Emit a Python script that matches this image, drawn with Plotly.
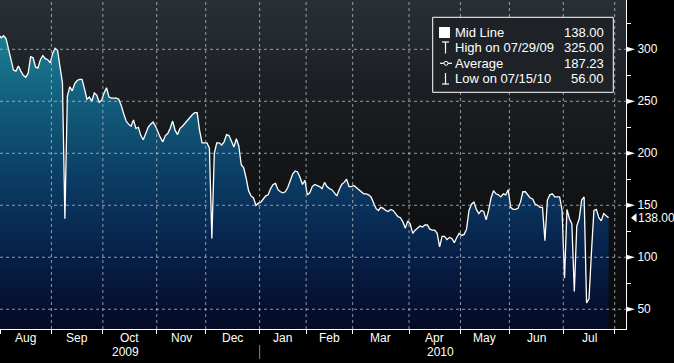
import numpy as np
import pandas as pd
import plotly.graph_objects as go

# ---------------- data ----------------
# trading-day closes from 2009-07-29 to 2010-07-28 (US trading calendar)
holidays = ["2009-09-07", "2009-11-26", "2009-12-25", "2010-01-01", "2010-01-18",
            "2010-02-15", "2010-04-02", "2010-05-31", "2010-07-05"]
values = [
    325, 319, 314,
    311, 313, 310, 300, 289, 280, 279, 284, 279, 275,
    273, 277, 293, 292, 283, 282, 290, 294, 291, 290,
    287, 296, 301, 299, 283, 268, 137, 255, 264, 260,
    267, 270, 271, 271, 262, 252, 254, 250, 258, 256,
    249, 251, 258, 263, 254, 253, 253, 253, 252, 246,
    238, 231, 228, 226, 232, 224, 225, 217, 213, 220,
    225, 228, 230, 226, 220, 215, 211, 217, 219, 224,
    231, 222, 218, 224, 226, 229, 232, 234, 237, 239,
    239, 222, 210, 210, 210, 205, 118, 200, 210, 210,
    208, 211, 218, 217, 211, 206, 214, 207, 189, 186,
    176, 164, 159, 157, 150, 152, 153, 156, 159, 160,
    166, 170, 171, 165, 163, 162, 163, 167, 174, 180,
    183, 182, 177, 170, 174, 160, 162, 168, 170, 169,
    168, 166, 172, 168, 166, 165, 162, 159, 165, 170,
    172, 175, 168, 168, 169, 167, 165, 163, 161, 161,
    160, 158, 152, 147, 145, 148, 147, 145, 144, 146,
    145, 142, 139, 138, 134, 128, 135, 132, 123, 126,
    128, 130, 129, 131, 131, 127, 126, 126, 123, 110,
    120, 120, 117, 119, 118, 114, 119, 123, 121, 122,
    127, 145, 151, 153, 146, 142, 145, 144, 136, 145,
    157, 164, 161, 160, 158, 161, 160, 165, 148, 146,
    146, 147, 153, 163, 163, 160, 157, 156, 151, 150,
    148, 148, 116, 155, 160, 161, 158, 158, 158, 145,
    80, 146, 137, 132, 67, 130, 137, 155, 158, 56,
    60, 105, 145, 146, 138, 135, 142, 140, 138,
]
y_ticks = [50, 100, 150, 200, 250, 300]
y_minor = [75, 125, 175, 225, 275, 325]
legend_labels = ["Mid Line", "High on 07/29/09", "Average", "Low on 07/15/10"]
legend_values = ["138.00", "325.00", "187.23", "56.00"]
last_value = 138.00
years = ["2009", "2010"]

# ---------------- calendar / axis positions ----------------
days = pd.bdate_range("2009-07-29", "2010-08-31")
days = days[~days.isin(pd.to_datetime(holidays))]
start_idx = int(np.where(days == pd.Timestamp("2009-08-03"))[0][0])
pos = np.arange(len(days)) - start_idx          # trading-day index, 0 = 2009-08-03
x_data = pos[:len(values)]

months = pd.period_range("2009-08", "2010-08", freq="M")
bounds = []
for m in months:
    first = days[(days.year == m.year) & (days.month == m.month)][0]
    bounds.append(pos[days.get_loc(first)] - 0.5)
mids = [(bounds[k] + bounds[k + 1]) / 2 for k in range(len(bounds) - 1)]
month_names = [m.strftime("%b") for m in months[:-1]]

X0 = bounds[0]
X1 = bounds[-1] + 4.6
Y0, Y1 = 31.0, 347.4

W, H = 674, 363
PL, PR, PT, PB = 0, 48, 0, 34
pw, ph = W - PL - PR, H - PT - PB
y_per_px = (Y1 - Y0) / ph


def px(x):
    return (x - PL) / pw


def py(y):
    return (H - PB - y) / ph


FONT = "Liberation Sans, Arial, sans-serif"
GRID = "rgba(190,196,204,0.75)"

fig = go.Figure()

# background gradient of the plotting area
fig.add_trace(go.Scatter(
    x=[X0, X1, X1, X0], y=[Y0, Y0, Y1, Y1], mode="lines", fill="toself",
    line=dict(width=0), hoverinfo="skip", showlegend=False,
    fillgradient=dict(type="vertical", start=Y0, stop=Y1,
                      colorscale=[[0, "#080809"], [0.45, "#121416"], [0.75, "#1c2024"], [1, "#2a3037"]]),
))

# area
fig.add_trace(go.Scatter(
    x=x_data, y=values, mode="lines", fill="tozeroy",
    line=dict(color="white", width=1.3), hoverinfo="skip", showlegend=False,
    fillgradient=dict(type="vertical", start=Y0, stop=315,
                      colorscale=[[0, "#040a24"], [0.25, "#072049"], [0.5, "#0b3b63"],
                                  [0.75, "#125b7b"], [1, "#1c7f93"]]),
))

shapes = []
# gridlines (drawn above the area)
for b in bounds[1:]:
    shapes.append(dict(type="line", xref="x", yref="paper", x0=b, x1=b, y0=0, y1=1,
                       line=dict(color=GRID, width=1, dash="dot"), layer="above"))
for v in y_ticks:
    shapes.append(dict(type="line", xref="paper", yref="y", x0=0, x1=1, y0=v, y1=v,
                       line=dict(color=GRID, width=1, dash="dot"), layer="above"))

# right-axis tick triangles
hh = 2.6 * y_per_px
for v in y_ticks:
    shapes.append(dict(type="path", xref="paper", yref="y",
                       path=f"M {px(626.5)},{v + hh} L {px(635)},{v} L {px(626.5)},{v - hh} Z",
                       line=dict(width=0), fillcolor="white", layer="above"))
# last value pointer
hl = 4.5 * y_per_px
shapes.append(dict(type="path", xref="paper", yref="y",
                   path=f"M {px(631)},{last_value} L {px(636.5)},{last_value + hl} L {px(636.5)},{last_value - hl} Z",
                   line=dict(width=0), fillcolor="white", layer="above"))

# legend box
shapes.append(dict(type="rect", xref="paper", yref="paper",
                   x0=px(432.7), x1=px(613.3), y0=py(92.3), y1=py(17.3),
                   line=dict(color="white", width=1), fillcolor="#1e2227", layer="above"))
# legend icons
shapes.append(dict(type="rect", xref="paper", yref="paper", x0=px(439), x1=px(450),
                   y0=py(38), y1=py(27), line=dict(width=0), fillcolor="white", layer="above"))
wl = dict(color="white", width=1.2)
shapes += [
    dict(type="line", xref="paper", yref="paper", x0=px(445.5), x1=px(445.5), y0=py(53.5), y1=py(42), line=wl, layer="above"),
    dict(type="line", xref="paper", yref="paper", x0=px(442), x1=px(449), y0=py(42), y1=py(42), line=wl, layer="above"),
    dict(type="line", xref="paper", yref="paper", x0=px(440), x1=px(452), y0=py(63.3), y1=py(63.3), line=wl, layer="above"),
    dict(type="circle", xref="paper", yref="paper", x0=px(444), x1=px(448), y0=py(65.3), y1=py(61.3),
         line=dict(color="white", width=1), fillcolor="#1e2227", layer="above"),
    dict(type="line", xref="paper", yref="paper", x0=px(445.5), x1=px(445.5), y0=py(84), y1=py(73), line=wl, layer="above"),
    dict(type="line", xref="paper", yref="paper", x0=px(442), x1=px(449), y0=py(84), y1=py(84), line=wl, layer="above"),
]
# year separator
shapes.append(dict(type="line", xref="x", yref="paper", x0=bounds[5], x1=bounds[5],
                   y0=py(345), y1=py(359), line=dict(color="#8a8a8a", width=1)))

annotations = []
row_y = [32.7, 47.9, 63.3, 78.8]
for lab, val, ry in zip(legend_labels, legend_values, row_y):
    annotations.append(dict(xref="paper", yref="paper", x=px(453), y=py(ry), text=lab,
                            showarrow=False, xanchor="left", yanchor="middle",
                            font=dict(family=FONT, size=13, color="white")))
    annotations.append(dict(xref="paper", yref="paper", x=px(605.5), y=py(ry), text=val,
                            showarrow=False, xanchor="right", yanchor="middle",
                            font=dict(family=FONT, size=13, color="white")))
# month labels
for mx, name in zip(mids, month_names):
    annotations.append(dict(xref="x", yref="paper", x=mx, y=py(337.5), text=name,
                            showarrow=False, xanchor="center", yanchor="middle",
                            font=dict(family=FONT, size=12, color="white")))
# last value label
annotations.append(dict(xref="paper", yref="y", x=px(635.5), y=last_value, text=f"{last_value:.2f}",
                        showarrow=False, xanchor="left", yanchor="middle",
                        font=dict(family=FONT, size=12, color="white")))
# year labels
annotations.append(dict(xref="paper", yref="paper", x=px(125), y=py(351.7), text=years[0],
                        showarrow=False, xanchor="center", yanchor="middle",
                        font=dict(family=FONT, size=12, color="white")))
annotations.append(dict(xref="paper", yref="paper", x=px(440), y=py(351.7), text=years[1],
                        showarrow=False, xanchor="center", yanchor="middle",
                        font=dict(family=FONT, size=12, color="white")))

fig.update_layout(
    width=W, height=H,
    margin=dict(l=PL, r=PR, t=PT, b=PB, pad=0),
    paper_bgcolor="black", plot_bgcolor="black",
    showlegend=False,
    shapes=shapes, annotations=annotations,
    xaxis=dict(range=[X0, X1], tickmode="array", tickvals=bounds, ticktext=[""] * len(bounds),
               ticks="outside", ticklen=4, tickcolor="white", tickwidth=1,
               showgrid=False, zeroline=False, showline=True,
               linecolor="white", linewidth=1, showticklabels=False,
               fixedrange=True),
    yaxis=dict(range=[Y0, Y1], side="right", tickmode="array", tickvals=y_ticks,
               ticktext=[str(v) for v in y_ticks], ticks="outside", ticklen=4,
               tickcolor="white", showgrid=False, zeroline=False, showline=True,
               linecolor="white", linewidth=1, ticklabelstandoff=4,
               tickfont=dict(family=FONT, size=12, color="white"),
               minor=dict(tickmode="array", tickvals=y_minor, ticks="outside", ticklen=4,
                          tickcolor="white", tickwidth=1, showgrid=False),
               fixedrange=True),
)

fig.write_html("out.html", config={"displayModeBar": False},
               post_script="document.body.style.margin='0';document.body.style.overflow='hidden';")
